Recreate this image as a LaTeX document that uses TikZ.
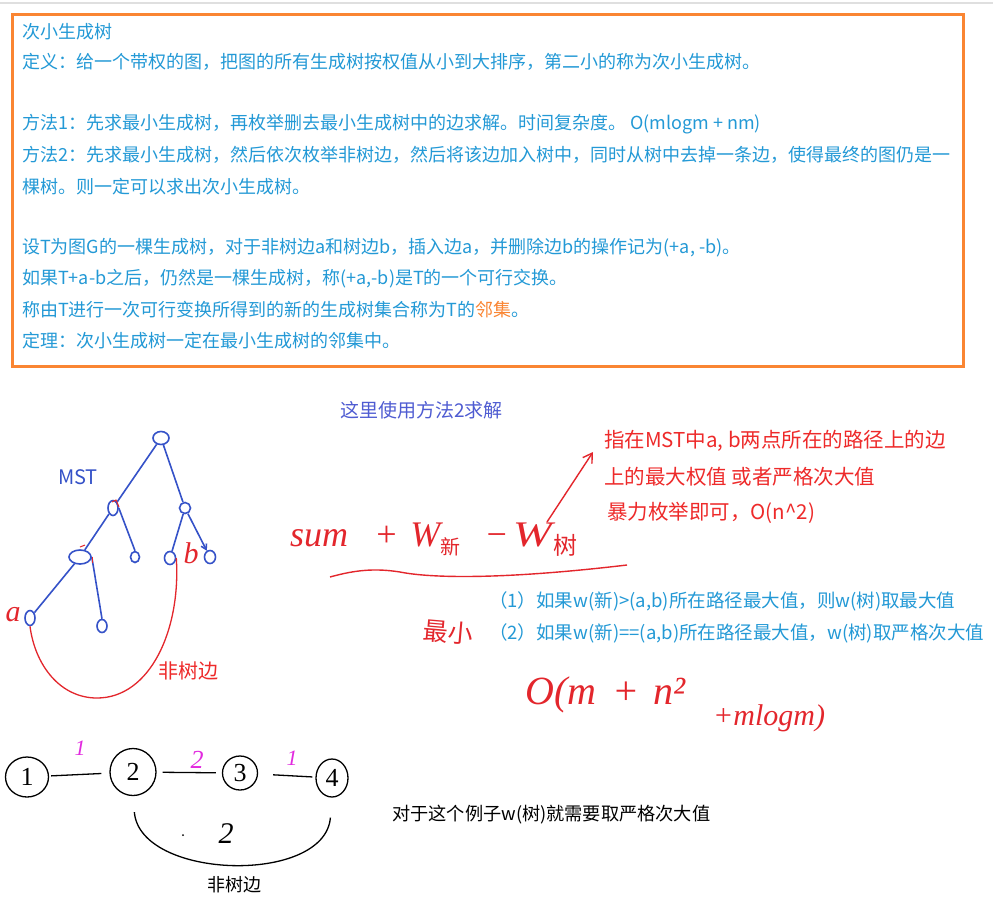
\documentclass[tikz,border=0pt]{standalone}
\usepackage{fontspec}
\setmainfont{Noto Sans CJK SC}
\newfontfamily\cjk{Noto Sans CJK SC}
\newfontfamily\hand{Liberation Serif}
\usetikzlibrary{shapes.geometric,arrows.meta}
\definecolor{boxblue}{HTML}{2399D6}
\definecolor{boxorange}{HTML}{FA8532}
\definecolor{treeblue}{HTML}{3552C8}
\definecolor{hred}{HTML}{E3262C}
\definecolor{tred}{HTML}{EE2A2A}
\definecolor{mag}{HTML}{E22ADF}
\definecolor{purp}{HTML}{4F5CD2}
\newcommand{\myfs}[1]{\fontsize{#1}{#1}\selectfont}
\begin{document}
\begin{tikzpicture}[x=1pt,y=-1pt,
  boxtxt/.style={anchor=west, inner sep=0pt, text=boxblue, font=\myfs{18}},
  rtxt/.style={anchor=west, inner sep=0pt, text=tred, font=\myfs{20.5}},
  tn/.style={draw=treeblue, line width=1.6pt, ellipse, inner sep=0pt, minimum width=11pt, minimum height=12pt},
  tedge/.style={draw=treeblue, line width=1.6pt},
  hredline/.style={draw=hred, line width=1.4pt},
  gnode/.style={draw=black, line width=1.3pt, ellipse, inner sep=0pt, font=\hand\myfs{26}},
  gedge/.style={draw=black, line width=1.3pt},
  wlab/.style={text=mag, inner sep=0pt, font=\hand\itshape\myfs{22}}]
\useasboundingbox (0,0) rectangle (993,898);
\fill[white] (0,0) rectangle (993,898);
\draw[gray!25, line width=1.5pt] (0,3) -- (993,3);
\draw[boxorange, line width=3pt] (12,14) rectangle (963,366);
% box text
\node[boxtxt] (t1) at (22,32) {次小生成树};
\node[boxtxt] (t2) at (22,62) {定义：给一个带权的图，把图的所有生成树按权值从小到大排序，第二小的称为次小生成树。};
\node[boxtxt] (t3) at (22,124) {方法1：先求最小生成树，再枚举删去最小生成树中的边求解。时间复杂度。 O(mlogm + nm)};
\node[boxtxt] (t4) at (22,155) {方法2：先求最小生成树，然后依次枚举非树边，然后将该边加入树中，同时从树中去掉一条边，使得最终的图仍是一};
\node[boxtxt] (t5) at (22,187) {棵树。则一定可以求出次小生成树。};
\node[boxtxt] (t6) at (22,248) {设T为图G的一棵生成树，对于非树边a和树边b，插入边a，并删除边b的操作记为(+a, -b)。};
\node[boxtxt] (t7) at (22,279) {如果T+a-b之后，仍然是一棵生成树，称(+a,-b)是T的一个可行交换。};
\node[boxtxt] (t8) at (22,310) {称由T进行一次可行变换所得到的新的生成树集合称为T的\textcolor{boxorange}{邻集}。};
\node[boxtxt] (t9) at (22,341) {定理：次小生成树一定在最小生成树的邻集中。};
% heading
\node[anchor=west, inner sep=0pt, text=purp, font=\myfs{19}] (h) at (340,410) {这里使用方法2求解};
% tree
\node[tn, minimum width=16pt, minimum height=13pt] (r) at (161,438) {};
\node[tn, minimum width=10pt, minimum height=15pt] (L) at (113,508) {};
\node[tn, minimum width=11pt, minimum height=11pt] (R) at (185,508) {};
\node[tn, minimum width=22pt, minimum height=14pt] (LL) at (80,557) {};
\node[tn, minimum width=9pt, minimum height=11pt] (LR) at (135,557) {};
\node[tn, minimum width=10pt, minimum height=15pt] (A) at (30,618) {};
\node[tn, minimum width=10pt, minimum height=13pt] (LLR) at (102,626) {};
\node[tn, minimum width=11pt, minimum height=13pt] (RL) at (170,558) {};
\node[tn, minimum width=11pt, minimum height=13pt] (RR) at (210,557) {};
\draw[tedge] (r) -- (L);
\draw[tedge] (r) -- (R);
\draw[tedge] (L) -- (LL);
\draw[tedge] (L.east) -- (LR.north);
\draw[tedge] (LL) -- (A);
\draw[tedge] (LL.east) -- (LLR.north);
\draw[tedge] (R) -- (RL);
\draw[tedge, -{Straight Barb[length=5pt,width=6pt]}] (R) -- (RR);
\draw[hred, line width=1pt] (112,502) -- (116,500) -- (119,507);
\draw[hred, line width=1pt] (80,547) -- (85,545);
\draw[hred, line width=1pt] (92,557) -- (92,563);
\node[text=treeblue, inner sep=0pt, font=\myfs{20}] (mst) at (78,477) {MST};
\node[text=hred, inner sep=0pt, font=\hand\itshape\myfs{30}] (la) at (13,615) {a};
\node[text=hred, inner sep=0pt, font=\hand\itshape\myfs{30}] (lb) at (191,553) {b};
\draw[hredline, line width=1.3pt] (A.south) .. controls (35,665) and (60,698) .. (97,698) .. controls (150,698) and (181,630) .. (RL.east);
\node[text=tred, inner sep=0pt, font=\myfs{20}] (nte) at (188,671) {非树边};
% red notes
\node[rtxt] (r1) at (604,441) {指在MST中a, b两点所在的路径上的边};
\node[rtxt] (r2) at (604,477) {上的最大权值 或者严格次大值};
\node[rtxt] (r3) at (607,513) {暴力枚举即可，O(n\textasciicircum 2)};
% formula
\node[anchor=west, inner sep=0pt, text=hred] (sum) at (290,540) {\hand\itshape\myfs{36}sum\hspace{26pt}+\hspace{12pt}W\raisebox{-8pt}{\cjk\myfs{20}新}\hspace{24pt}−\hspace{4pt}\scalebox{1.3}[1]{W}\hspace{2pt}\raisebox{-8pt}{\cjk\myfs{24}树}};
\coordinate (ulA) at (330,577);
\coordinate (ulB) at (627,565);
\draw[hredline] (ulA) .. controls (355,570) and (375,568) .. (400,572) .. controls (430,578) and (500,580) .. (ulB);
\coordinate (arrT) at (547,522);
\coordinate (arrH) at (593,452);
\draw[hredline, -{Straight Barb[length=9pt,width=11pt]}] (arrT) -- (arrH);
% conditions
\node[boxtxt, font=\myfs{18.5}] (c1) at (489,601) {（1）如果w(新)>(a,b)所在路径最大值，则w(树)取最大值};
\node[boxtxt, font=\myfs{18.5}] (c2) at (489,633) {（2）如果w(新)==(a,b)所在路径最大值，w(树)取严格次大值};
\node[text=hred, inner sep=0pt, font=\cjk\myfs{25}, rotate=-5] (zx) at (448,632) {最小};
\node[anchor=west, inner sep=0pt, text=hred, font=\hand\itshape\myfs{40}] (o1) at (525,695) {O(m\hspace{16pt}+\hspace{14pt}n²};
\node[anchor=west, inner sep=0pt, text=hred, font=\hand\itshape\myfs{30}] (o2) at (713,718) {+mlogm)};
% bottom graph
\node[gnode, minimum width=43pt, minimum height=40pt] (n1) at (27,777) {1};
\node[gnode, minimum width=46pt, minimum height=47pt] (n2) at (133,772) {2};
\node[gnode, minimum width=35pt, minimum height=34pt] (n3) at (240,773) {3};
\node[gnode, minimum width=32pt, minimum height=38pt] (n4) at (332,778) {4};
\draw[gedge, shorten <=2pt, shorten >=8pt] (n1) -- (n2);
\draw[gedge, shorten <=6pt, shorten >=6pt] (n2) -- (n3);
\draw[gedge, shorten <=15pt, shorten >=3pt] (n3) -- (n4);
\node[wlab] (w1) at (80,748) {1};
\node[wlab, font=\hand\itshape\myfs{26}] (w2) at (197,760) {2};
\node[wlab] (w3) at (292,758) {1};
\draw[gedge, shorten <=16pt, shorten >=20pt] (n2.south) .. controls (140,880) and (325,885) .. (n4.south);
\node[inner sep=0pt, font=\hand\itshape\myfs{30}] (w4) at (226,834) {2};
\fill (183,835) circle[radius=1pt];
\node[inner sep=0pt, font=\myfs{18}] (nte2) at (234,885) {非树边};
\node[anchor=west, inner sep=0pt, font=\myfs{18.2}] (ex) at (392,815) {对于这个例子w(树)就需要取严格次大值};
\end{tikzpicture}
\end{document}
